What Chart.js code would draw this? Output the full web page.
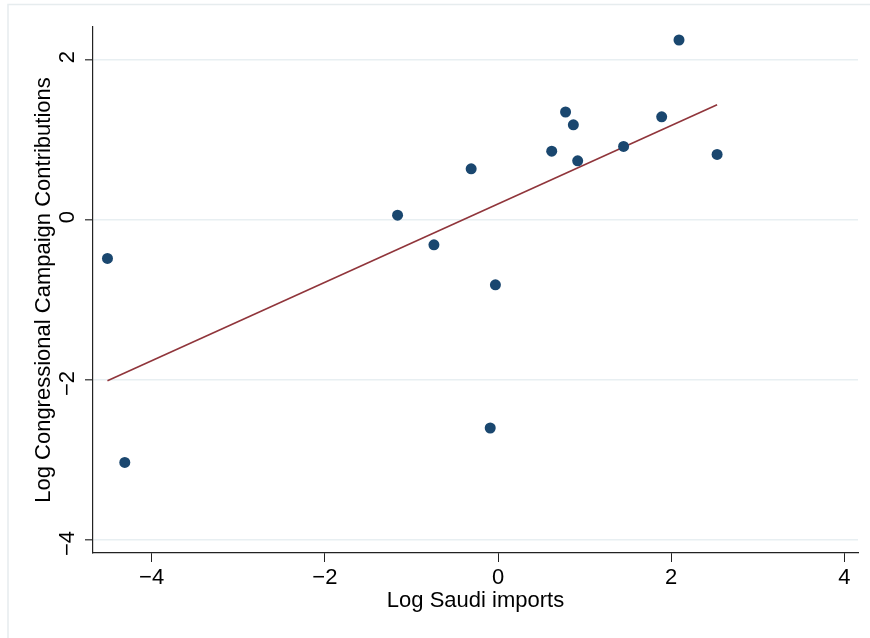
<!DOCTYPE html>
<html>
<head>
<meta charset="utf-8">
<script src="https://cdn.jsdelivr.net/npm/chart.js@4/dist/chart.umd.min.js"></script>
<style>
    html, body { margin: 0; padding: 0; background: #fff; }
    #wrap { width: 870px; height: 638px; position: relative; }
</style>
</head>
<body>
<div id="wrap"><canvas id="chart" width="870" height="638"></canvas></div>
<script>
// Scatter values
const saudiImports = [-4.51, -4.31, -1.16, -0.74, -0.31, -0.09, -0.03, 0.62, 0.78, 0.87, 0.92, 1.45, 1.89, 2.09, 2.53];
const contributions = [-0.48, -3.03, 0.06, -0.31, 0.64, -2.60, -0.81, 0.86, 1.35, 1.19, 0.74, 0.92, 1.29, 2.25, 0.82];

// Fitted line end points
const fitX = [-4.51, 2.53];
const fitY = [-2.01, 1.44];

const xTicks = [-4, -2, 0, 2, 4];
const yTicks = [-4, -2, 0, 2];

const FONT = 'Helvetica, "Liberation Sans", Arial, sans-serif';
const minus = v => (v < 0 ? '\u2212' + Math.abs(v) : String(v));

// light frame around the plot region (left + top edges only show)
const framePlugin = {
    id: 'frame',
    beforeDraw(chart) {
        const ctx = chart.ctx;
        ctx.save();
        ctx.fillStyle = '#fff';
        ctx.fillRect(0, 0, chart.width, chart.height);
        ctx.strokeStyle = '#e6ecee';
        ctx.lineWidth = 1.5;
        ctx.strokeRect(8, 4.5, chart.width + 20, chart.height + 20);
        ctx.restore();
    }
};

new Chart(document.getElementById('chart'), {
    type: 'scatter',
    data: {
        datasets: [
            {
                label: 'Log Congressional Campaign Contributions',
                data: saudiImports.map((x, i) => ({ x: x, y: contributions[i] })),
                backgroundColor: '#1a476f',
                borderColor: '#1a476f',
                pointRadius: 5.5,
                pointBorderWidth: 0,
                order: 1
            },
            {
                type: 'line',
                label: 'Fitted values',
                data: fitX.map((x, i) => ({ x: x, y: fitY[i] })),
                borderColor: '#90353b',
                borderWidth: 1.6,
                pointRadius: 0,
                fill: false,
                order: 2
            }
        ]
    },
    options: {
        responsive: false,
        animation: false,
        layout: { padding: { left: 0, right: 12, top: 27, bottom: 20 } },
        plugins: {
            legend: { display: false },
            tooltip: { enabled: false }
        },
        scales: {
            x: {
                type: 'linear',
                min: -4.677,
                max: 4.157,
                afterBuildTicks: s => { s.ticks = xTicks.map(v => ({ value: v })); },
                afterFit: s => { s.height = 65; s.paddingLeft = 0; s.paddingRight = 0; },
                grid: { display: true, drawOnChartArea: false, tickLength: 9, tickColor: '#222', lineWidth: 1 },
                border: { color: '#222', width: 1.2 },
                ticks: {
                    color: '#000',
                    padding: 3,
                    maxRotation: 0,
                    font: { family: FONT, size: 22 },
                    callback: v => minus(v)
                },
                title: {
                    display: true,
                    text: 'Log Saudi imports',
                    color: '#000',
                    font: { family: FONT, size: 22 },
                    padding: { top: 0 }
                }
            },
            y: {
                type: 'linear',
                min: -4.1625,
                max: 2.4125,
                afterBuildTicks: s => { s.ticks = yTicks.map(v => ({ value: v })); },
                afterFit: s => { s.width = 93; s.paddingTop = 0; s.paddingBottom = 0; },
                grid: { color: '#e8eff2', lineWidth: 1.5, tickLength: 8, tickColor: '#555' },
                border: { color: '#222', width: 1.2 },
                ticks: {
                    color: '#000',
                    padding: 17,
                    labelOffset: -9,
                    minRotation: 90,
                    maxRotation: 90,
                    font: { family: FONT, size: 22 },
                    callback: v => minus(v)
                },
                title: {
                    display: true,
                    text: 'Log Congressional Campaign Contributions',
                    color: '#000',
                    font: { family: FONT, size: 22 },
                    padding: { top: 31, bottom: 4 }
                }
            }
        }
    },
    plugins: [framePlugin]
});
</script>
</body>
</html>
